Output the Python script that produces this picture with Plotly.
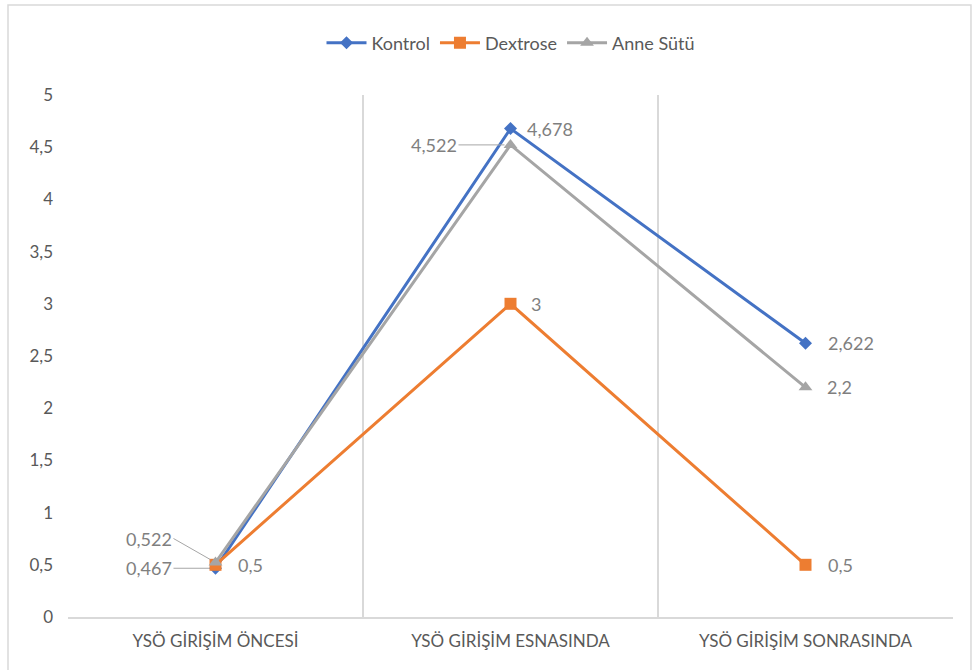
import plotly.graph_objects as go

categories = ["YSÖ GİRİŞİM ÖNCESİ", "YSÖ GİRİŞİM ESNASINDA", "YSÖ GİRİŞİM SONRASINDA"]
kontrol = [0.467, 4.678, 2.622]
dextrose = [0.5, 3, 0.5]
anne_sutu = [0.522, 4.522, 2.2]

def fmt(v):
    return f"{v:g}".replace(".", ",")

LABEL_COLOR = "#7f7f7f"
FONT = "Lato, 'Open Sans', sans-serif"

fig = go.Figure()

# label placement per point: (side, dx, dy) ; "L" labels get a leader line
kontrol_pos = [("L", -42, 0), ("R", 14, 0), ("R", 20, 0)]
dextrose_pos = [("R", 20, 0), ("R", 18, 0), ("R", 20, 0)]
anne_pos = [("L", -42, -24), ("L", -52, 0), ("R", 19, 0)]

def add_series(name, vals, color, symbol, size, pos):
    fig.add_trace(go.Scatter(
        x=categories, y=vals, name=name, mode="lines+markers",
        line=dict(color=color, width=3),
        marker=dict(symbol=symbol, size=size, color=color),
        cliponaxis=False,
    ))
    for x, y, (side, dx, dy) in zip(categories, vals, pos):
        if side == "R":
            fig.add_annotation(x=x, y=y, text=fmt(y), showarrow=False,
                               xanchor="left", xshift=dx, yshift=-dy,
                               font=dict(color=LABEL_COLOR, size=18, family=FONT))
        else:
            fig.add_annotation(x=x, y=y, text=fmt(y), showarrow=True, arrowhead=0,
                               arrowwidth=1, arrowcolor="#a6a6a6", ax=dx, ay=dy,
                               standoff=6, xanchor="right",
                               font=dict(color=LABEL_COLOR, size=18, family=FONT))

add_series("Kontrol", kontrol, "#4472C4", "diamond", 10, kontrol_pos)
add_series("Dextrose", dextrose, "#ED7D31", "square", 12, dextrose_pos)
add_series("Anne Sütü", anne_sutu, "#A5A5A5", "triangle-up", 12, anne_pos)

# outer chart border
fig.add_shape(type="rect", xref="paper", yref="paper",
              x0=-0.0678, x1=1.0203, y0=-0.11, y1=1.1724,
              line=dict(color="#d9d9d9", width=1.5), layer="below")

fig.update_layout(
    width=974, height=670,
    margin=dict(l=68, r=21, t=95, b=53, autoexpand=False),
    plot_bgcolor="white", paper_bgcolor="white",
    separators=",.",
    font=dict(family=FONT, color="#595959"),
    showlegend=True,
    legend=dict(orientation="h", x=0.5, xanchor="center", y=1.0996, yanchor="middle",
                font=dict(size=18, color="#595959", family=FONT), itemwidth=40),
    xaxis=dict(type="category", range=[-0.5, 2.5], tickson="boundaries",
               showgrid=True, gridcolor="#d9d9d9", gridwidth=1.5,
               showline=True, linecolor="#d9d9d9", linewidth=1.5,
               ticks="", ticklabelstandoff=8,
               tickfont=dict(size=17, color="#595959", family=FONT)),
    yaxis=dict(range=[0, 5], dtick=0.5, showgrid=False, zeroline=False,
               showline=False, ticks="", ticklabelstandoff=14,
               tickfont=dict(size=17, color="#595959", family=FONT)),
)

fig.write_html("out.html")
